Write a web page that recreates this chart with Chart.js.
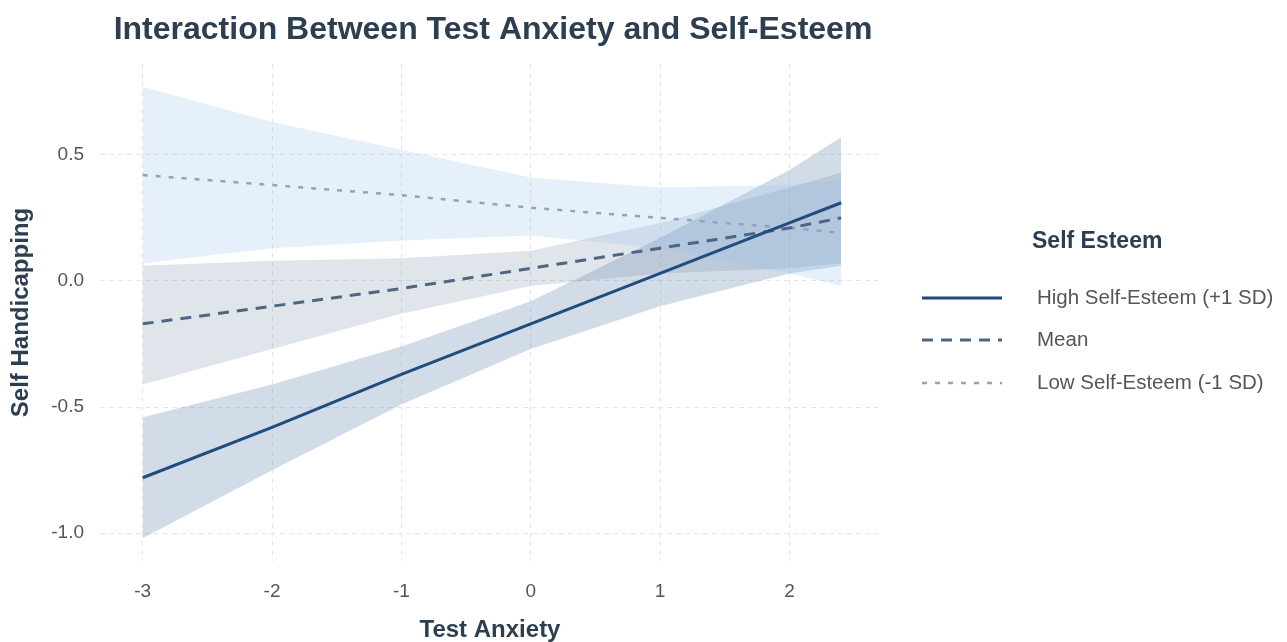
<!DOCTYPE html>
<html>
<head>
<meta charset="utf-8">
<title>Interaction Between Test Anxiety and Self-Esteem</title>
<script src="https://cdn.jsdelivr.net/npm/chart.js@4.4.0/dist/chart.umd.min.js"></script>
<style>
  html, body { margin: 0; padding: 0; background: #fff; }
  #wrap { width: 1287px; height: 642px; position: relative; }
</style>
</head>
<body>
<div id="wrap"><canvas id="interactionChart"></canvas></div>
<script>
const anxiety = [-3, -2, -1, 0, 1, 2, 2.4];

// High self-esteem (+1 SD)
const highFit   = [-0.78, -0.58, -0.37, -0.17, 0.03, 0.23, 0.31];
const highUpper = [-0.54, -0.41, -0.26, -0.08, 0.17, 0.44, 0.57];
const highLower = [-1.02, -0.75, -0.49, -0.27, -0.10, 0.03, 0.06];

// Mean self-esteem
const meanFit   = [-0.17, -0.10, -0.03, 0.05, 0.13, 0.21, 0.25];
const meanUpper = [0.06, 0.08, 0.09, 0.12, 0.23, 0.37, 0.43];
const meanLower = [-0.41, -0.27, -0.13, -0.02, 0.03, 0.05, 0.07];

// Low self-esteem (-1 SD)
const lowFit   = [0.42, 0.38, 0.34, 0.29, 0.25, 0.21, 0.19];
const lowUpper = [0.77, 0.63, 0.52, 0.41, 0.37, 0.38, 0.40];
const lowLower = [0.07, 0.13, 0.16, 0.18, 0.13, 0.03, -0.02];

const seriesNames = ['High Self-Esteem (+1 SD)', 'Mean', 'Low Self-Esteem (-1 SD)'];
const xTicks = [-3, -2, -1, 0, 1, 2];
const yTicks = [-1.0, -0.5, 0.0, 0.5];

const FONT = '"Liberation Sans", Arial, sans-serif';
const DARK = '#2c3e50';

function toPoints(ys) {
    return anxiety.map((x, i) => ({ x: x, y: ys[i] }));
}

function band(ys, color, fill) {
    return {
        data: toPoints(ys),
        borderWidth: 0,
        borderColor: 'rgba(0,0,0,0)',
        backgroundColor: color,
        pointRadius: 0,
        fill: fill,
        order: 3
    };
}

// Title above the plot and the legend on the right
const decorations = {
    id: 'decorations',
    afterDraw(chart) {
        const ctx = chart.ctx;
        const area = chart.chartArea;
        ctx.save();
        ctx.textBaseline = 'middle';

        ctx.fillStyle = DARK;
        ctx.textAlign = 'center';
        ctx.font = 'bold 32px ' + FONT;
        ctx.fillText('Interaction Between Test Anxiety and Self-Esteem', (area.left + area.right) / 2 + 3, 30);

        ctx.textAlign = 'left';
        ctx.font = 'bold 23px ' + FONT;
        ctx.fillText('Self Esteem', 1032, 242);

        const rows = [298, 340, 383];
        ctx.font = '20.5px ' + FONT;
        seriesNames.forEach((name, i) => {
            const ds = chart.data.datasets[6 + i];
            ctx.strokeStyle = ds.borderColor;
            ctx.lineWidth = ds.borderWidth;
            ctx.setLineDash(ds.borderDash || []);
            ctx.beginPath();
            ctx.moveTo(922, rows[i]);
            ctx.lineTo(1002, rows[i]);
            ctx.stroke();
            ctx.fillStyle = '#555';
            ctx.fillText(name, 1037, rows[i]);
        });
        ctx.restore();
    }
};

const ctx = document.getElementById('interactionChart').getContext('2d');
new Chart(ctx, {
    type: 'line',
    data: {
        datasets: [
            band(lowUpper, 'rgba(140,185,230,0.22)', '+1'),
            band(lowLower, 'rgba(0,0,0,0)', false),
            band(meanUpper, 'rgba(100,125,160,0.20)', '+1'),
            band(meanLower, 'rgba(0,0,0,0)', false),
            band(highUpper, 'rgba(90,125,170,0.27)', '+1'),
            band(highLower, 'rgba(0,0,0,0)', false),
            {
                label: seriesNames[0],
                data: toPoints(highFit),
                borderColor: '#1f4d7d',
                borderWidth: 3,
                pointRadius: 0,
                fill: false,
                order: 0
            },
            {
                label: seriesNames[1],
                data: toPoints(meanFit),
                borderColor: '#4d6682',
                borderWidth: 3,
                borderDash: [11, 8],
                pointRadius: 0,
                fill: false,
                order: 1
            },
            {
                label: seriesNames[2],
                data: toPoints(lowFit),
                borderColor: '#8fa5bd',
                borderWidth: 2.5,
                borderDash: [5, 8],
                pointRadius: 0,
                fill: false,
                order: 2
            }
        ]
    },
    options: {
        responsive: true,
        maintainAspectRatio: false,
        animation: false,
        layout: { padding: { left: 0, top: 64, right: 407, bottom: 0 } },
        plugins: {
            legend: { display: false },
            title: { display: false },
            tooltip: { enabled: false },
            filler: { drawTime: 'beforeDatasetsDraw' }
        },
        scales: {
            x: {
                type: 'linear',
                min: -3.33,
                max: 2.7,
                afterBuildTicks: scale => { scale.ticks = xTicks.map(v => ({ value: v })); },
                afterFit: scale => { scale.height = 81; },
                grid: { color: '#e6e6e6', lineWidth: 1, drawTicks: false },
                border: { display: false, dash: [5, 4] },
                ticks: {
                    padding: 19,
                    color: '#555',
                    font: { family: FONT, size: 19 },
                    callback: v => String(v)
                },
                title: {
                    display: true,
                    text: 'Test Anxiety',
                    color: DARK,
                    font: { family: FONT, size: 24, weight: 'bold', lineHeight: 1 },
                    padding: { top: 0, bottom: 0 }
                }
            },
            y: {
                min: -1.11,
                max: 0.86,
                afterBuildTicks: scale => { scale.ticks = yTicks.map(v => ({ value: v })); },
                afterFit: scale => { scale.width = 100; },
                grid: { color: '#e6e6e6', lineWidth: 1, drawTicks: false },
                border: { display: false, dash: [5, 4] },
                ticks: {
                    padding: 16,
                    color: '#555',
                    font: { family: FONT, size: 19 },
                    callback: v => v.toFixed(1)
                },
                title: {
                    display: true,
                    text: 'Self Handicapping',
                    color: DARK,
                    font: { family: FONT, size: 24, weight: 'bold', lineHeight: 1.2 },
                    padding: { top: 7, bottom: 0 }
                }
            }
        }
    },
    plugins: [decorations]
});
</script>
</body>
</html>
